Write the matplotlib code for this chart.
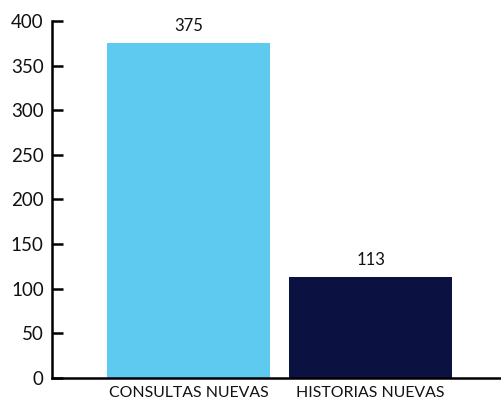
import matplotlib
matplotlib.use("Agg")
import matplotlib.pyplot as plt

categories = ["CONSULTAS NUEVAS", "HISTORIAS NUEVAS"]
values = [375, 113]
colors = ["#5fcaf0", "#0b1140"]
yticks = [0, 50, 100, 150, 200, 250, 300, 350, 400]

plt.rcParams['font.family'] = ['Lato', 'DejaVu Sans']

fig = plt.figure(figsize=(5.01, 4.05), dpi=100)
ax = fig.add_axes([0.104, 0.067, 0.896, 0.881])
x = list(range(len(categories)))
bars = ax.bar(x, values, width=0.9, color=colors, zorder=2)
for xi, v in zip(x, values):
    ax.text(xi, v + 10, str(v), ha='center', va='bottom', fontsize=12, color='#111111')

ax.set_xlim(-0.75, 1.717)
ax.set_ylim(0, 400)
ax.set_yticks(yticks)
ax.set_xticks(x)
ax.set_xticklabels(categories, fontsize=11.4, color='#111111')
ax.tick_params(axis='y', direction='in', length=8, width=1.8, labelsize=13.5, pad=6, labelcolor='#111111')
ax.tick_params(axis='x', length=0, pad=6)
for s in ['top', 'right']:
    ax.spines[s].set_visible(False)
ax.spines['left'].set_linewidth(1.8)
ax.spines['bottom'].set_linewidth(1.8)
fig.savefig("out.png", dpi=100)
